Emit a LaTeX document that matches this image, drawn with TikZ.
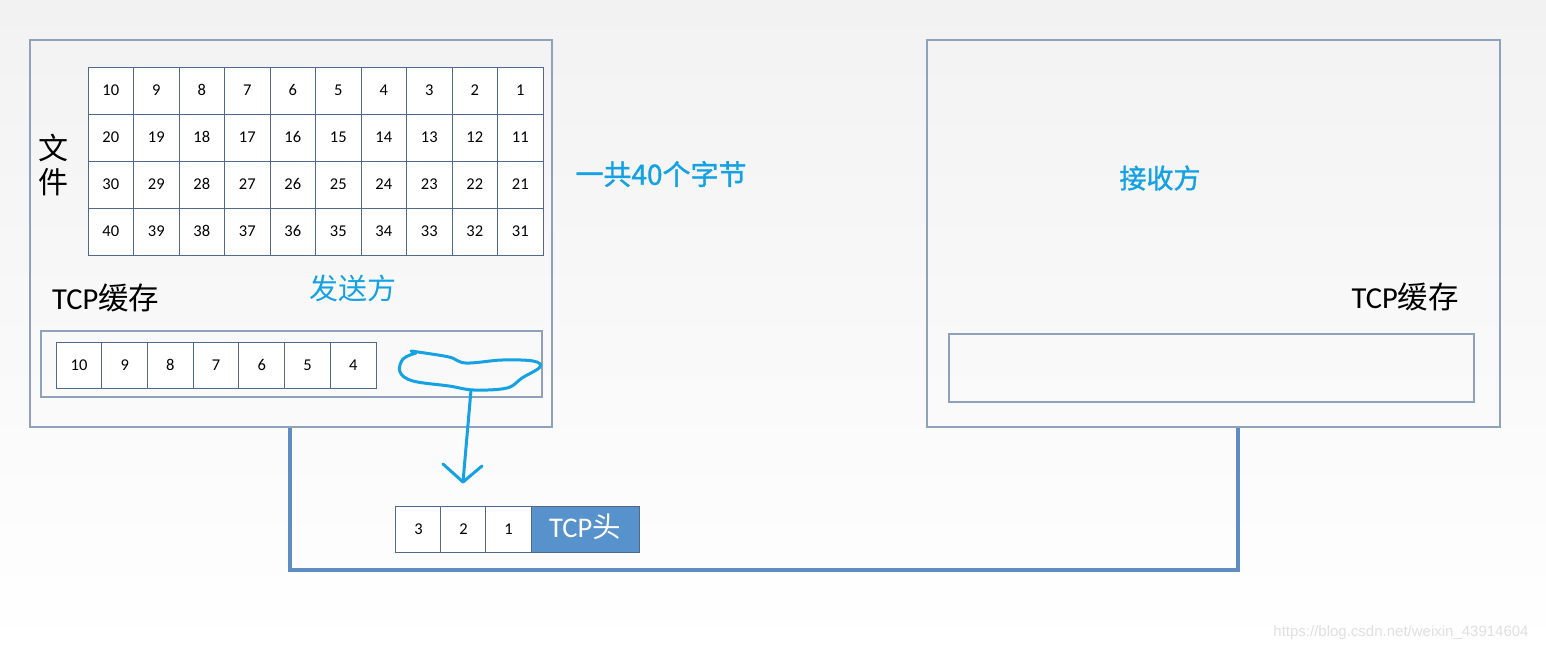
\documentclass[tikz,border=0pt]{standalone}
\usepackage{fontspec}
\setmainfont{Carlito}
\newfontfamily\cjk{Noto Sans CJK SC}
\newfontfamily\cjkb{Noto Sans CJK SC}[FakeBold=1.2]
\newfontfamily\web{Liberation Sans}
\usetikzlibrary{positioning}
\definecolor{myblue}{RGB}{20,162,228}
\definecolor{boxline}{RGB}{143,162,188}
\definecolor{cellline}{RGB}{80,104,140}
\definecolor{linkblue}{RGB}{96,140,196}
\definecolor{headblue}{RGB}{88,146,204}
\definecolor{bgtop}{RGB}{242,242,242}

\tikzset{
	cell/.style = {draw=cellline, fill=white, line width=1pt, minimum width=45.5pt, minimum height=47pt, inner sep=0pt, text height=10.5pt, text depth=0pt, font=\fontsize{16.5}{16.5}\selectfont},
	frame/.style = {draw=boxline, line width=1.3pt, inner sep=0pt},
	label/.style = {inner sep=0pt, font=\cjk\fontsize{29}{29}\selectfont},
	pen/.style = {draw=myblue, line width=3pt, line cap=round, line join=round},
	link/.style = {draw=linkblue, line width=3.5pt}
}

\begin{document}
\begin{tikzpicture}[x=1pt, y=-1pt]

\useasboundingbox (0,0) rectangle (1546,651);
\fill [top color=bgtop, bottom color=white] (0,0) rectangle (1546,651);

%---------LINK-----------%
\coordinate (sl) at (290,427);
\coordinate (rl) at (1238,427);
\draw [link] (sl) -- ++(0,143) -| (rl);

%---------HOSTS-----------%
\node [frame, minimum width=522pt, minimum height=387pt] (sender) at (291,233.5) {};
\node [frame, minimum width=573pt, minimum height=387pt] (receiver) at (1213.5,233.5) {};

\node [frame, minimum width=501pt, minimum height=66pt] (sbuf) at (291.5,364) {};
\node [frame, minimum width=525pt, minimum height=68pt] (rbuf) at (1211.5,368) {};

%---------FILE-----------%
\foreach \r in {0,...,3}{
	\foreach \c in {0,...,9}{
		\pgfmathtruncatemacro{\n}{10*(\r+1)-\c}
		\node [cell] (f\n) at (110.75+45.5*\c, 90.5+47*\r) {\n};
	};
};

%---------SEND BUFFER-----------%
\foreach \c in {0,...,6}{
	\pgfmathtruncatemacro{\n}{10-\c}
	\node [cell, minimum width=45.7pt, minimum height=46pt] (b\n) at (79+45.7*\c, 365) {\n};
};

%---------SEGMENT-----------%
\foreach \c in {3,2,1}{
	\node [cell, minimum height=46pt] (p\c) at (418.5+45*3-45*\c, 529) {\c};
};
\node [cell, fill=headblue, text=white, minimum width=108pt, minimum height=46pt, text height=20pt, text depth=4pt, font=\fontsize{28.5}{28.5}\selectfont] (head) at (585,529) {TCP{\cjk 头}};

%---------TEXTS-----------%
\node [label, align=center, font=\cjk\fontsize{30}{34}\selectfont] (file) at (53,165) {文\\件};
\node [label, text=myblue, font=\cjkb\fontsize{28}{28}\selectfont] (total) at (661,174) {一共40个字节};
\node [label, text=myblue] (send) at (353,288) {发送方};
\node [label, text=myblue, font=\cjkb\fontsize{27}{27}\selectfont] (recv) at (1160,178) {接收方};
\node [label, anchor=west, font=\fontsize{30.5}{30.5}\selectfont] (scache) at (52,298) {TCP{\cjk 缓存}};
\node [label, anchor=east, font=\fontsize{30.5}{30.5}\selectfont] (rcache) at (1459,297) {TCP{\cjk 缓存}};

\node [inner sep=0pt, text=black!12, font=\web\fontsize{15}{15}\selectfont] (mark) at (1401,633) {https://blog.csdn.net/weixin\_43914604};

%---------HAND DRAWING-----------%
\draw [pen] plot [smooth, tension=0.6] coordinates {(411,351) (418,352) (449,357) (466,363) (502,360) (533,361) (540,367) (522,378) (507,388) (474,390) (449,386) (413,381) (400,372) (403,359) (416,353)};
\coordinate (lp) at (471,390);
\coordinate (tip) at (463,482);
\draw [pen] (lp) -- (tip);
\draw [pen] (443,464) -- (tip) -- (482,466);

\end{tikzpicture}
\end{document}
